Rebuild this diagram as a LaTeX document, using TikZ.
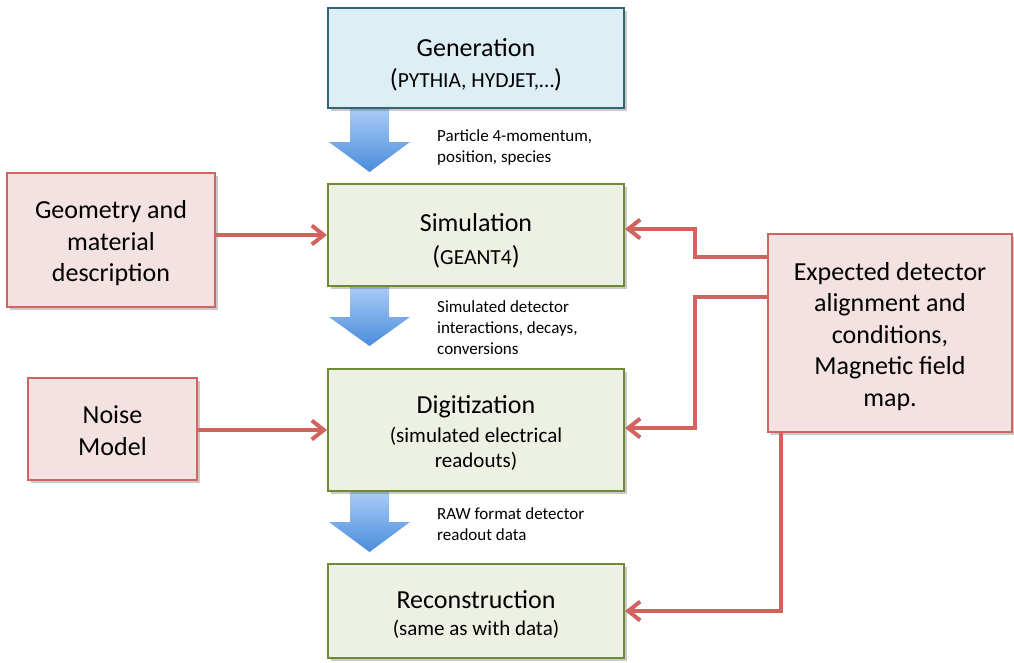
\documentclass[tikz,border=0pt]{standalone}
\usepackage{fontspec}
\setmainfont{Carlito}
\usetikzlibrary{arrows.meta,shadows}
\definecolor{genfill}{RGB}{222,238,245}
\definecolor{genline}{RGB}{49,101,118}
\definecolor{grnfill}{RGB}{237,241,228}
\definecolor{grnline}{RGB}{110,138,52}
\definecolor{pnkfill}{RGB}{244,225,225}
\definecolor{pnkline}{RGB}{210,100,96}
\definecolor{redline}{RGB}{210,100,96}
\definecolor{bluetop}{RGB}{170,204,247}
\definecolor{bluebot}{RGB}{74,140,219}
\newcommand{\bigtxt}{\fontsize{26}{31.5}\selectfont}
\newcommand{\subtxt}{\fontsize{21}{31.5}\selectfont}
\newcommand{\capstxt}{\fontsize{21.5}{31.5}\selectfont}
\newcommand{\smalltxt}{\fontsize{17}{21}\selectfont}
\tikzset{
  boxbase/.style={draw, line width=2pt, inner sep=0pt,
    drop shadow={shadow xshift=2.5pt, shadow yshift=-3pt, opacity=0.35, fill=black!60}},
  genbox/.style={boxbase, fill=genfill, draw=genline},
  grnbox/.style={boxbase, fill=grnfill, draw=grnline},
  pnkbox/.style={boxbase, fill=pnkfill, draw=pnkline},
  boxtext/.style={align=center, inner sep=0pt, font=\bigtxt},
  conn/.style={draw=redline, line width=4pt, -{Straight Barb[length=12pt,width=19pt]}},
  lbl/.style={anchor=west, align=left, inner sep=0pt, font=\smalltxt},
  fatarrow/.style={top color=bluetop, bottom color=bluebot, draw=none}
}
\begin{document}
\begin{tikzpicture}[x=1pt,y=-1pt]
\path[use as bounding box] (0,0) rectangle (1014,662);
% blue fat arrows
\shade[fatarrow] (350,108) -- (389,108) -- (389,142) -- (410,142) -- (369.5,172) -- (329,142) -- (350,142) -- cycle;
\shade[fatarrow] (350,286) -- (389,286) -- (389,317) -- (410,317) -- (369.5,346) -- (329,317) -- (350,317) -- cycle;
\shade[fatarrow] (350,491) -- (389,491) -- (389,522) -- (410,522) -- (369.5,552) -- (329,522) -- (350,522) -- cycle;
% main boxes
\node[genbox, minimum width=296pt, minimum height=100pt] (gen) at (476,58) {};
\node[grnbox, minimum width=296pt, minimum height=102pt] (sim) at (476,235) {};
\node[grnbox, minimum width=296pt, minimum height=122pt] (dig) at (476,430) {};
\node[grnbox, minimum width=296pt, minimum height=94pt] (rec) at (476,611) {};
% side boxes
\node[pnkbox, minimum width=208pt, minimum height=134pt] (geo) at (111,240) {};
\node[pnkbox, minimum width=169pt, minimum height=102pt] (noise) at (112.5,429) {};
\node[pnkbox, minimum width=244pt, minimum height=198pt] (exp) at (890,333) {};
% box texts
\node[boxtext] (gent) at (476,65)
  {Generation\\[-0.5pt](\capstxt PYTHIA, HYDJET,\ldots\bigtxt)};
\node[boxtext] (simt) at (476,240.5)
  {Simulation\\[1.5pt](\capstxt GEANT4\bigtxt)};
\node[boxtext] (digt) at (476,433)
  {Digitization\\[-2.5pt]\subtxt (simulated electrical\\[-6.5pt]\subtxt readouts)};
\node[boxtext] (rect) at (476,614.5)
  {Reconstruction\\[-4.5pt]\subtxt (same as with data)};
\node[boxtext] (geot) at (111,243.5) {Geometry and\\material\\description};
\node[boxtext] (noiset) at (112.5,430.5) {Noise\\Model};
\node[boxtext] (expt) at (890,336.5)
  {Expected detector\\alignment and\\conditions,\\Magnetic field\\map.};
% labels
\node[lbl] (l1) at (437,147.5) {Particle 4-momentum,\\position, species};
\node[lbl] (l2) at (437,328) {Simulated detector\\interactions, decays,\\conversions};
\node[lbl] (l3) at (437,524.5) {RAW format detector\\readout data};
% connectors
\draw[conn] (sim.west -| geo.east) -- (sim.west);
\draw[conn] (dig.west -| noise.east) -- (dig.west);
\draw[conn] ([yshift=76pt]exp.west) -- ++(-72,0) |- ([yshift=6pt]sim.east);
\draw[conn] ([yshift=36pt]exp.west) -- ++(-72,0) |- ([yshift=2pt]dig.east);
\draw[conn] ([xshift=14pt]exp.south west) |- (rec.east);
\end{tikzpicture}
\end{document}
